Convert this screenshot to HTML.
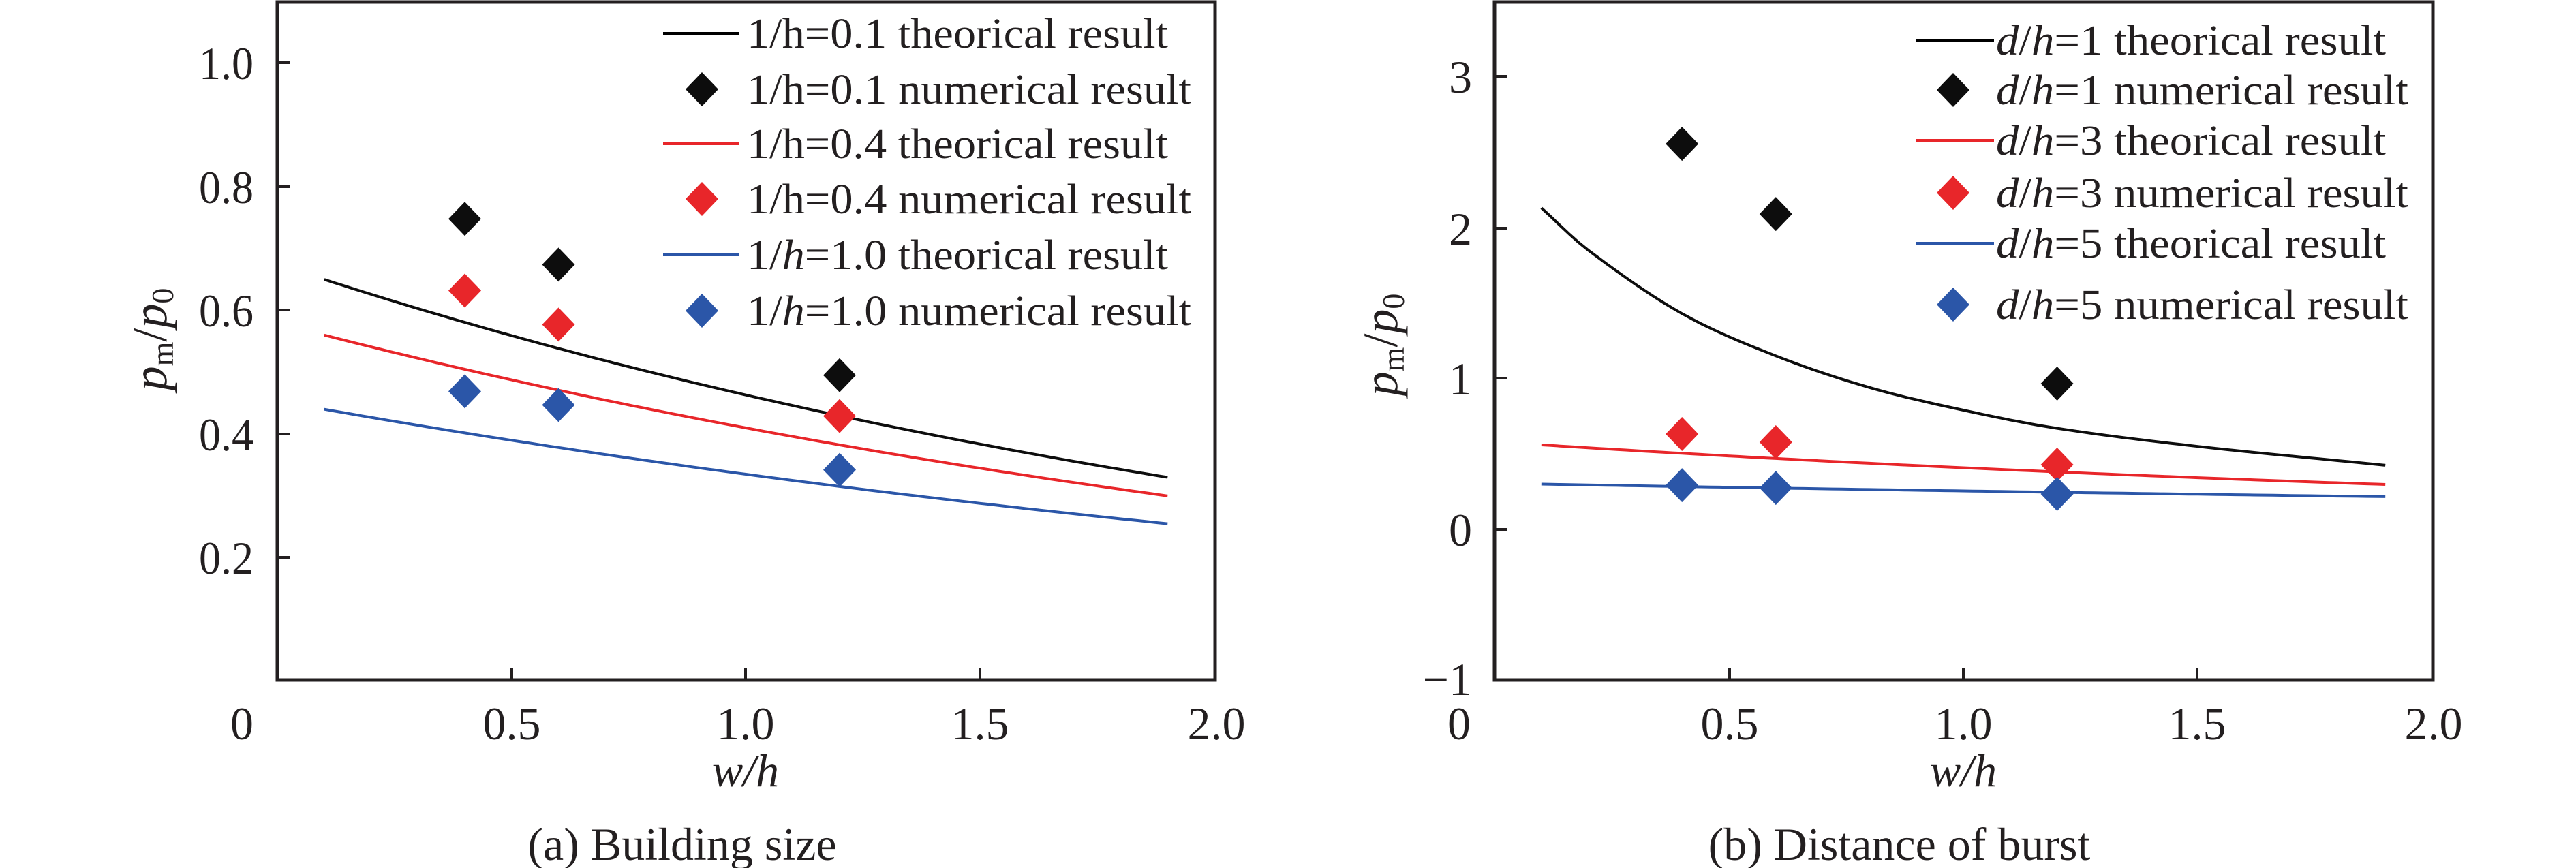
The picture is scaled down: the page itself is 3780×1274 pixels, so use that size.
<!DOCTYPE html>
<html><head><meta charset="utf-8"><style>
html,body{margin:0;padding:0;background:#fff;}
svg{display:block;}
text{font-family:"Liberation Serif","Times New Roman",serif;fill:#231f20;}
</style></head><body>
<svg id="s" width="3780" height="1274" viewBox="0 0 3780 1274" xmlns="http://www.w3.org/2000/svg" font-family="Liberation Serif, serif">
<rect width="3780" height="1274" fill="#fff"/>
<rect x="407" y="3" width="1376" height="995" fill="none" stroke="#231f20" stroke-width="5"/>
<g stroke="#231f20" stroke-width="4">
<line x1="751" y1="998" x2="751" y2="980"/><line x1="1094" y1="998" x2="1094" y2="980"/><line x1="1438" y1="998" x2="1438" y2="980"/>
<line x1="407" y1="92" x2="425" y2="92"/><line x1="407" y1="274" x2="425" y2="274"/><line x1="407" y1="455" x2="425" y2="455"/><line x1="407" y1="637" x2="425" y2="637"/><line x1="407" y1="818" x2="425" y2="818"/>
</g>
<g font-size="68" text-anchor="end">
<text x="372" y="116" textLength="80" lengthAdjust="spacingAndGlyphs">1.0</text><text x="372" y="298" textLength="80" lengthAdjust="spacingAndGlyphs">0.8</text><text x="372" y="479" textLength="80" lengthAdjust="spacingAndGlyphs">0.6</text><text x="372" y="661" textLength="80" lengthAdjust="spacingAndGlyphs">0.4</text><text x="372" y="842" textLength="80" lengthAdjust="spacingAndGlyphs">0.2</text>
</g>
<g font-size="68" text-anchor="middle">
<text x="355" y="1085">0</text><text x="751" y="1085">0.5</text><text x="1094" y="1085">1.0</text><text x="1438" y="1085">1.5</text><text x="1785" y="1085">2.0</text>
<text x="1094" y="1154" font-style="italic">w/h</text>
<text x="1001" y="1262">(a) Building size</text>
</g>
<text transform="translate(244,498) rotate(-90)" font-size="72" text-anchor="middle"><tspan font-style="italic">p</tspan><tspan font-size="46" dy="10">m</tspan><tspan dy="-10">/</tspan><tspan font-style="italic">p</tspan><tspan font-size="46" dy="10">0</tspan></text>
<g id="lc"></g>
<g stroke-width="4">
<line x1="973" y1="49" x2="1084" y2="49" stroke="#000"/>
<line x1="973" y1="211" x2="1084" y2="211" stroke="#e8262a"/>
<line x1="973" y1="374" x2="1084" y2="374" stroke="#2b56a8"/>
</g>
<g font-size="62">
<text x="1096" y="70" textLength="618" lengthAdjust="spacingAndGlyphs">1/h=0.1 theorical result</text>
<text x="1096" y="152" textLength="652" lengthAdjust="spacingAndGlyphs">1/h=0.1 numerical result</text>
<text x="1096" y="232" textLength="618" lengthAdjust="spacingAndGlyphs">1/h=0.4 theorical result</text>
<text x="1096" y="313" textLength="652" lengthAdjust="spacingAndGlyphs">1/h=0.4 numerical result</text>
<text x="1096" y="395" textLength="618" lengthAdjust="spacingAndGlyphs">1/<tspan font-style="italic">h</tspan>=1.0 theorical result</text>
<text x="1096" y="477" textLength="652" lengthAdjust="spacingAndGlyphs">1/<tspan font-style="italic">h</tspan>=1.0 numerical result</text>
</g>

<rect x="2193" y="3" width="1377" height="995" fill="none" stroke="#231f20" stroke-width="5"/>
<g stroke="#231f20" stroke-width="4">
<line x1="2538" y1="998" x2="2538" y2="980"/><line x1="2881" y1="998" x2="2881" y2="980"/><line x1="3224" y1="998" x2="3224" y2="980"/>
<line x1="2193" y1="112" x2="2211" y2="112"/><line x1="2193" y1="335" x2="2211" y2="335"/><line x1="2193" y1="555" x2="2211" y2="555"/><line x1="2193" y1="777" x2="2211" y2="777"/>
</g>
<g font-size="68" text-anchor="end">
<text x="2160" y="136">3</text><text x="2160" y="359">2</text><text x="2160" y="579">1</text><text x="2160" y="801">0</text><text x="2160" y="1020">−1</text>
</g>
<g font-size="68" text-anchor="middle">
<text x="2141" y="1085">0</text><text x="2538" y="1085">0.5</text><text x="2881" y="1085">1.0</text><text x="3224" y="1085">1.5</text><text x="3571" y="1085">2.0</text>
<text x="2881" y="1154" font-style="italic">w/h</text>
<text x="2787" y="1262">(b) Distance of burst</text>
</g>
<text transform="translate(2050,506) rotate(-90)" font-size="72" text-anchor="middle"><tspan font-style="italic">p</tspan><tspan font-size="46" dy="10">m</tspan><tspan dy="-10">/</tspan><tspan font-style="italic">p</tspan><tspan font-size="46" dy="10">0</tspan></text>
<g id="rc"></g>
<g stroke-width="4">
<line x1="2811" y1="59" x2="2926" y2="59" stroke="#000"/>
<line x1="2811" y1="206" x2="2926" y2="206" stroke="#e8262a"/>
<line x1="2811" y1="357" x2="2926" y2="357" stroke="#2b56a8"/>
</g>
<g font-size="62">
<text x="2929" y="80" textLength="572" lengthAdjust="spacingAndGlyphs"><tspan font-style="italic">d</tspan>/<tspan font-style="italic">h</tspan>=1 theorical result</text>
<text x="2929" y="153" textLength="605" lengthAdjust="spacingAndGlyphs"><tspan font-style="italic">d</tspan>/<tspan font-style="italic">h</tspan>=1 numerical result</text>
<text x="2929" y="227" textLength="572" lengthAdjust="spacingAndGlyphs"><tspan font-style="italic">d</tspan>/<tspan font-style="italic">h</tspan>=3 theorical result</text>
<text x="2929" y="304" textLength="605" lengthAdjust="spacingAndGlyphs"><tspan font-style="italic">d</tspan>/<tspan font-style="italic">h</tspan>=3 numerical result</text>
<text x="2929" y="378" textLength="572" lengthAdjust="spacingAndGlyphs"><tspan font-style="italic">d</tspan>/<tspan font-style="italic">h</tspan>=5 theorical result</text>
<text x="2929" y="468" textLength="605" lengthAdjust="spacingAndGlyphs"><tspan font-style="italic">d</tspan>/<tspan font-style="italic">h</tspan>=5 numerical result</text>
</g>
<g id="dm"></g>
</svg>
<script>
var NS="http://www.w3.org/2000/svg";
function el(p,t,a){var e=document.createElementNS(NS,t);for(var k in a)e.setAttribute(k,a[k]);document.getElementById(p).appendChild(e);}
var K="#0d0d0d",R="#e8262a",B="#2b56a8";
function LX(x){return 407+x*687.5;} function LY(v){return 1000-v*907.5;}
function expc(a,b){var k=Math.log(a/b)/1.8;return function(x){return a*Math.exp(-k*(x-0.1));};}
[[expc(0.65,0.33),K],[expc(0.56,0.30),R],[expc(0.44,0.255),B]].forEach(function(c){
 var p=[];for(var i=0;i<=90;i++){var x=0.1+i*0.02;p.push(LX(x).toFixed(1)+","+LY(c[0](x)).toFixed(1));}
 el("lc","polyline",{points:p.join(" "),fill:"none",stroke:c[1],"stroke-width":4});
});
function dia(cx,cy,col){el("dm","polygon",{points:(cx-24)+","+cy+" "+cx+","+(cy-25)+" "+(cx+24)+","+cy+" "+cx+","+(cy+25),fill:col});}
[[0.4,0.748,K],[0.6,0.674,K],[1.2,0.495,K],[0.4,0.632,R],[0.6,0.577,R],[1.2,0.429,R],[0.4,0.469,B],[0.6,0.447,B],[1.2,0.342,B]].forEach(function(d){dia(LX(d[0]),LY(d[1]),d[2]);});
dia(1030,131,K);dia(1030,292,R);dia(1030,456,B);
function RX(x){return 2193+x*688;} function RY(v){return 777-v*221.5;}
var kp=[[0.1,2.13],[0.2,1.85],[0.4,1.43],[0.6,1.15],[0.8,0.94],[1.0,0.79],[1.2,0.67],[1.5,0.55],[1.9,0.425]];
function interp(x){for(var i=0;i<kp.length-1;i++){if(x<=kp[i+1][0]){var a=kp[Math.max(i-1,0)],b=kp[i],c=kp[i+1],d=kp[Math.min(i+2,kp.length-1)];var t=(x-b[0])/(c[0]-b[0]);var m1=(c[1]-a[1])/(c[0]-a[0])*(c[0]-b[0]),m2=(d[1]-b[1])/(d[0]-b[0])*(c[0]-b[0]);var t2=t*t,t3=t2*t;return (2*t3-3*t2+1)*b[1]+(t3-2*t2+t)*m1+(-2*t3+3*t2)*c[1]+(t3-t2)*m2;}}return kp[kp.length-1][1];}
[[interp,K],[expc(0.56,0.298),R],[expc(0.30,0.217),B]].forEach(function(c){
 var p=[];for(var i=0;i<=90;i++){var x=0.1+i*0.02;p.push(RX(x).toFixed(1)+","+RY(c[0](x)).toFixed(1));}
 el("rc","polyline",{points:p.join(" "),fill:"none",stroke:c[1],"stroke-width":4});
});
[[0.4,2.555,K],[0.6,2.09,K],[1.2,0.966,K],[0.4,0.632,R],[0.6,0.578,R],[1.2,0.429,R],[0.4,0.293,B],[0.6,0.275,B],[1.2,0.235,B]].forEach(function(d){dia(RX(d[0]),RY(d[1]),d[2]);});
dia(2866,132,K);dia(2866,283,R);dia(2866,447,B);
</script>
</body></html>
